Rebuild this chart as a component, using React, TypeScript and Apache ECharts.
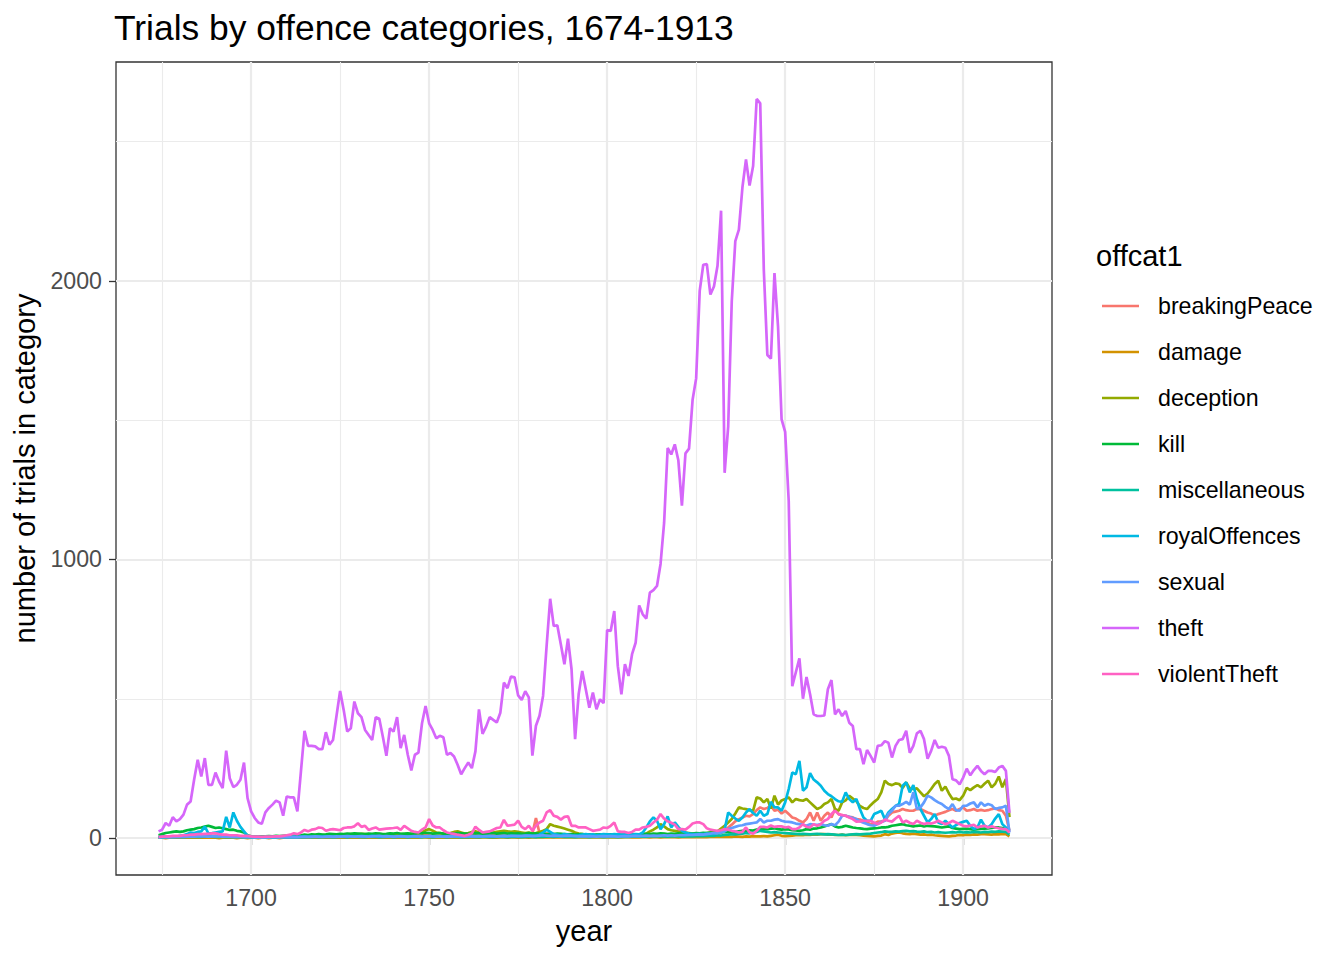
import React, { useEffect, useRef } from "react";
import * as echarts from "echarts";

const startYear = 1674;
const endYear = 1913;
const years: number[] = Array.from({ length: endYear - startYear + 1 }, (_, i) => startYear + i);

const categories = [
  "breakingPeace",
  "damage",
  "deception",
  "kill",
  "miscellaneous",
  "royalOffences",
  "sexual",
  "theft",
  "violentTheft",
];

const colors = ["#F8766D", "#D39200", "#93AA00", "#00BA38", "#00C19F", "#00B9E3", "#619CFF", "#D566FA", "#FF61C3"];

// one value per year, 1674..1913 (rows of ten years)
const breakingPeace = [
  2, 3, 3, 2, 4, 3, 3, 4, 5, 4,
  4, 5, 4, 3, 4, 5, 3, 4, 3, 4,
  3, 4, 3, 3, 2, 3, 2, 2, 3, 2,
  3, 2, 3, 3, 4, 3, 3, 4, 5, 4,
  6, 5, 6, 8, 6, 7, 8, 6, 7, 8,
  8, 7, 9, 8, 10, 8, 9, 10, 8, 9,
  8, 9, 7, 8, 10, 8, 9, 8, 7, 9,
  8, 7, 8, 9, 10, 12, 10, 9, 8, 9,
  8, 7, 6, 7, 8, 6, 7, 8, 9, 10,
  9, 8, 10, 11, 10, 12, 11, 14, 12, 13,
  12, 14, 15, 12, 14, 16, 72, 18, 14, 16,
  15, 14, 12, 14, 11, 12, 10, 9, 8, 9,
  8, 7, 8, 6, 7, 8, 6, 7, 8, 6,
  7, 6, 8, 7, 9, 8, 10, 9, 11, 12,
  11, 12, 14, 12, 13, 11, 12, 10, 11, 12,
  10, 11, 12, 10, 11, 12, 14, 16, 20, 28,
  38, 48, 60, 68, 74, 80, 78, 86, 100, 110,
  104, 108, 116, 98, 102, 88, 98, 86, 74, 70,
  62, 56, 68, 92, 62, 92, 62, 80, 92, 74,
  104, 86, 82, 80, 76, 74, 68, 66, 62, 56,
  50, 52, 59, 60, 62, 80, 92, 95, 98, 104,
  100, 98, 98, 104, 104, 98, 92, 88, 80, 86,
  90, 94, 100, 104, 98, 104, 110, 98, 100, 104,
  98, 101, 98, 100, 104, 107, 100, 98, 80, 26,
];

const damage = [
  1, 1, 0, 1, 1, 2, 1, 1, 2, 1,
  1, 2, 1, 1, 2, 1, 1, 0, 1, 1,
  1, 1, 0, 1, 1, 0, 1, 1, 0, 1,
  1, 0, 1, 1, 0, 1, 1, 2, 1, 1,
  2, 1, 1, 2, 1, 2, 1, 1, 2, 1,
  2, 1, 2, 1, 2, 1, 1, 2, 1, 2,
  1, 2, 1, 1, 2, 1, 2, 1, 1, 2,
  1, 1, 2, 1, 2, 2, 1, 2, 1, 1,
  2, 1, 1, 2, 1, 1, 2, 1, 2, 1,
  1, 2, 2, 1, 2, 1, 2, 2, 1, 2,
  2, 1, 2, 2, 1, 2, 3, 2, 2, 3,
  2, 3, 2, 2, 3, 2, 2, 3, 2, 2,
  2, 3, 2, 2, 3, 2, 3, 2, 2, 3,
  2, 3, 3, 2, 3, 2, 3, 3, 2, 3,
  3, 2, 3, 3, 4, 3, 2, 3, 4, 3,
  3, 4, 3, 4, 3, 4, 5, 4, 5, 4,
  5, 4, 6, 5, 4, 6, 5, 7, 6, 6,
  7, 6, 8, 10, 12, 8, 7, 8, 9, 10,
  11, 10, 12, 11, 13, 12, 14, 14, 12, 13,
  11, 11, 12, 10, 11, 12, 11, 10, 9, 8,
  7, 6, 8, 9, 14, 11, 16, 18, 20, 17,
  15, 14, 16, 14, 12, 13, 11, 12, 10, 9,
  8, 7, 6, 8, 9, 11, 10, 12, 11, 13,
  12, 14, 14, 13, 12, 14, 13, 15, 14, 6,
];

const deception = [
  3, 4, 4, 5, 5, 6, 5, 6, 7, 6,
  7, 8, 6, 8, 9, 7, 8, 6, 7, 6,
  6, 5, 6, 5, 4, 5, 3, 4, 3, 4,
  4, 3, 4, 5, 4, 5, 6, 5, 6, 5,
  7, 8, 9, 8, 10, 9, 11, 10, 12, 11,
  12, 11, 13, 12, 14, 12, 13, 15, 14, 12,
  13, 12, 14, 13, 12, 14, 13, 15, 14, 13,
  14, 15, 16, 18, 20, 28, 32, 26, 20, 18,
  16, 15, 18, 22, 24, 20, 16, 18, 22, 24,
  20, 18, 17, 18, 20, 22, 24, 26, 24, 22,
  24, 22, 20, 18, 20, 16, 18, 22, 26, 32,
  50, 44, 41, 38, 34, 30, 26, 20, 16, 14,
  12, 13, 11, 12, 10, 11, 12, 10, 11, 12,
  11, 10, 12, 11, 12, 13, 14, 16, 24, 30,
  38, 50, 42, 32, 28, 26, 24, 22, 20, 18,
  16, 14, 15, 16, 18, 20, 22, 24, 34, 44,
  56, 68, 88, 110, 106, 104, 100, 98, 146, 142,
  128, 140, 106, 152, 120, 135, 140, 146, 128, 140,
  136, 134, 140, 128, 116, 104, 110, 122, 128, 140,
  104, 98, 128, 135, 152, 142, 132, 115, 108, 104,
  118, 130, 140, 164, 206, 194, 190, 196, 194, 180,
  200, 178, 176, 178, 164, 150, 160, 176, 194, 206,
  170, 185, 160, 140, 142, 136, 152, 180, 172, 182,
  190, 182, 195, 206, 182, 195, 221, 182, 212, 75,
];

const kill = [
  10, 14, 18, 20, 22, 24, 22, 24, 28, 30,
  32, 36, 38, 41, 44, 40, 36, 38, 35, 32,
  29, 30, 26, 24, 20, 10, 6, 5, 6, 5,
  6, 7, 6, 8, 7, 8, 9, 10, 8, 9,
  10, 12, 11, 13, 12, 14, 12, 13, 15, 14,
  13, 15, 14, 16, 15, 17, 16, 15, 14, 16,
  15, 17, 16, 14, 15, 17, 16, 18, 15, 16,
  17, 15, 16, 18, 17, 19, 18, 16, 17, 18,
  16, 15, 17, 16, 18, 17, 16, 15, 17, 18,
  17, 16, 15, 17, 18, 16, 17, 18, 16, 17,
  16, 17, 15, 16, 18, 16, 17, 15, 16, 14,
  15, 14, 16, 15, 14, 13, 14, 12, 13, 14,
  12, 13, 11, 12, 13, 11, 12, 13, 12, 11,
  12, 13, 12, 14, 13, 12, 14, 15, 14, 16,
  15, 17, 16, 14, 16, 15, 17, 16, 15, 17,
  16, 18, 17, 19, 18, 20, 19, 21, 20, 22,
  21, 23, 22, 24, 26, 25, 28, 27, 30, 35,
  33, 32, 34, 35, 32, 30, 32, 31, 28, 27,
  26, 28, 32, 30, 34, 35, 38, 42, 46, 50,
  42, 38, 40, 44, 41, 38, 36, 35, 33, 32,
  34, 35, 36, 38, 38, 40, 44, 46, 48, 50,
  46, 44, 42, 44, 45, 42, 44, 43, 42, 40,
  38, 40, 42, 36, 34, 32, 33, 34, 32, 30,
  32, 33, 34, 35, 36, 38, 38, 36, 34, 26,
];

const miscellaneous = [
  2, 3, 2, 3, 4, 3, 4, 3, 4, 5,
  4, 5, 4, 5, 6, 5, 4, 5, 4, 3,
  4, 3, 4, 3, 2, 3, 2, 3, 2, 2,
  3, 2, 3, 2, 3, 3, 2, 3, 4, 3,
  4, 3, 4, 5, 4, 3, 4, 5, 4, 5,
  4, 5, 4, 3, 5, 4, 5, 4, 3, 4,
  5, 4, 3, 4, 5, 4, 3, 4, 5, 4,
  3, 4, 5, 4, 3, 5, 4, 3, 4, 5,
  4, 3, 4, 5, 4, 3, 4, 3, 5, 4,
  3, 4, 5, 4, 3, 4, 5, 4, 3, 4,
  5, 4, 3, 4, 5, 4, 3, 5, 4, 6,
  5, 4, 6, 5, 4, 5, 4, 3, 4, 5,
  4, 3, 4, 5, 4, 3, 4, 5, 4, 3,
  4, 5, 4, 5, 6, 5, 6, 5, 6, 7,
  6, 7, 6, 5, 6, 7, 6, 5, 6, 7,
  6, 7, 8, 7, 8, 9, 8, 10, 9, 11,
  12, 14, 13, 15, 16, 18, 17, 20, 22, 26,
  24, 22, 20, 21, 20, 19, 18, 17, 16, 15,
  14, 15, 14, 13, 14, 15, 14, 13, 14, 13,
  12, 11, 12, 11, 12, 13, 14, 13, 14, 15,
  16, 18, 20, 21, 24, 22, 22, 24, 23, 25,
  26, 24, 25, 23, 22, 24, 21, 22, 20, 21,
  20, 19, 20, 21, 20, 22, 20, 21, 20, 22,
  21, 20, 22, 21, 23, 22, 24, 23, 22, 12,
];

const royalOffences = [
  3, 4, 5, 4, 6, 5, 8, 10, 14, 20,
  18, 22, 24, 41, 17, 18, 20, 22, 24, 76,
  38, 92, 62, 40, 24, 8, 4, 3, 4, 3,
  3, 4, 3, 4, 3, 5, 4, 3, 4, 3,
  4, 5, 4, 3, 4, 5, 4, 5, 4, 3,
  4, 5, 6, 4, 5, 6, 5, 4, 5, 6,
  8, 6, 5, 4, 5, 6, 4, 5, 6, 5,
  4, 5, 6, 5, 4, 6, 5, 4, 5, 6,
  5, 4, 5, 6, 5, 4, 5, 6, 5, 4,
  5, 6, 5, 4, 6, 5, 6, 7, 6, 8,
  7, 8, 6, 8, 10, 9, 8, 12, 20, 30,
  22, 14, 12, 10, 14, 12, 10, 9, 10, 12,
  14, 12, 13, 11, 12, 14, 13, 12, 14, 13,
  12, 14, 13, 12, 14, 13, 20, 38, 60, 74,
  62, 32, 50, 78, 38, 56, 40, 26, 20, 16,
  14, 14, 15, 14, 16, 14, 15, 18, 20, 30,
  92, 80, 70, 62, 74, 92, 104, 90, 80, 98,
  80, 86, 130, 110, 110, 98, 128, 176, 235, 229,
  277, 170, 182, 233, 210, 200, 188, 170, 158, 150,
  140, 132, 130, 164, 140, 128, 140, 104, 74, 62,
  62, 86, 92, 98, 68, 92, 104, 115, 122, 188,
  200, 164, 190, 140, 104, 80, 56, 68, 86, 56,
  50, 62, 50, 38, 46, 54, 58, 62, 44, 32,
  38, 66, 44, 38, 50, 70, 86, 50, 38, 26,
];

const sexual = [
  2, 3, 3, 4, 3, 4, 5, 4, 5, 6,
  5, 6, 7, 6, 5, 6, 7, 6, 5, 6,
  5, 4, 5, 4, 3, 4, 3, 2, 3, 2,
  3, 2, 3, 3, 2, 3, 4, 3, 4, 3,
  4, 5, 4, 5, 6, 5, 4, 5, 6, 5,
  6, 5, 6, 7, 6, 5, 6, 7, 6, 5,
  6, 7, 8, 6, 7, 6, 5, 6, 7, 6,
  5, 6, 7, 6, 5, 6, 7, 6, 5, 6,
  5, 6, 5, 6, 7, 6, 5, 6, 7, 6,
  7, 6, 7, 8, 7, 6, 7, 8, 7, 8,
  8, 7, 8, 9, 8, 7, 8, 9, 10, 9,
  8, 9, 8, 7, 8, 9, 8, 7, 6, 7,
  6, 7, 6, 5, 6, 7, 6, 7, 6, 5,
  6, 7, 6, 7, 8, 7, 8, 9, 8, 9,
  8, 9, 10, 9, 10, 9, 10, 11, 10, 11,
  11, 12, 13, 12, 14, 16, 18, 17, 20, 24,
  32, 36, 40, 44, 46, 50, 52, 54, 56, 68,
  56, 62, 62, 66, 68, 62, 59, 58, 56, 52,
  50, 48, 44, 50, 48, 47, 50, 46, 44, 50,
  46, 59, 80, 80, 76, 72, 68, 60, 55, 50,
  46, 44, 50, 58, 62, 86, 98, 116, 116, 122,
  130, 120, 164, 104, 110, 128, 152, 146, 136, 128,
  122, 112, 104, 122, 100, 98, 116, 116, 124, 128,
  110, 128, 116, 122, 118, 104, 108, 110, 116, 20,
];

const theft = [
  24, 30, 54, 44, 75, 60, 68, 84, 120, 131,
  210, 281, 221, 287, 191, 191, 235, 203, 179, 314,
  215, 183, 191, 209, 271, 143, 96, 72, 56, 51,
  92, 108, 120, 134, 128, 80, 149, 146, 146, 96,
  240, 385, 331, 331, 329, 319, 319, 380, 335, 352,
  440, 528, 460, 382, 394, 490, 448, 434, 388, 370,
  352, 434, 428, 364, 295, 394, 382, 434, 323, 370,
  299, 243, 299, 307, 412, 474, 412, 388, 358, 367,
  362, 299, 305, 293, 263, 229, 251, 271, 251, 311,
  462, 374, 400, 434, 424, 415, 450, 558, 538, 580,
  577, 512, 496, 527, 505, 296, 403, 439, 510, 690,
  859, 761, 764, 695, 624, 716, 606, 355, 516, 600,
  534, 468, 522, 462, 498, 484, 747, 743, 815, 617,
  516, 624, 582, 660, 701, 835, 803, 788, 881, 890,
  905, 984, 1131, 1400, 1377, 1413, 1356, 1193, 1381, 1398,
  1573, 1650, 1964, 2058, 2060, 1951, 1980, 2054, 2252, 1311,
  1477, 1926, 2143, 2184, 2336, 2436, 2342, 2412, 2653, 2637,
  2041, 1734, 1721, 2028, 1836, 1503, 1458, 1210, 545, 595,
  645, 500, 578, 516, 444, 438, 438, 440, 534, 567,
  444, 462, 438, 456, 414, 402, 319, 319, 265, 316,
  295, 271, 331, 333, 348, 342, 289, 331, 352, 355,
  385, 306, 331, 376, 385, 355, 285, 313, 352, 324,
  328, 324, 295, 211, 207, 193, 217, 249, 225, 244,
  259, 241, 229, 241, 241, 237, 253, 259, 241, 90,
];

const violentTheft = [
  4, 5, 6, 6, 8, 8, 8, 10, 10, 12,
  12, 14, 14, 15, 15, 17, 17, 14, 12, 12,
  10, 10, 10, 8, 8, 8, 6, 5, 5, 4,
  5, 5, 5, 6, 6, 8, 10, 12, 17, 14,
  20, 29, 24, 30, 32, 38, 36, 26, 30, 32,
  30, 28, 36, 38, 38, 42, 53, 40, 44, 29,
  34, 38, 30, 32, 34, 35, 36, 38, 29, 44,
  35, 26, 22, 20, 30, 38, 68, 45, 38, 38,
  28, 20, 17, 15, 12, 10, 8, 12, 17, 41,
  29, 20, 22, 24, 30, 36, 38, 65, 44, 46,
  48, 62, 40, 32, 44, 26, 44, 56, 62, 92,
  100, 80, 76, 66, 76, 78, 44, 44, 38, 38,
  38, 32, 26, 28, 30, 38, 36, 44, 56, 24,
  22, 22, 18, 22, 30, 30, 38, 40, 44, 56,
  66, 86, 70, 60, 55, 48, 32, 32, 30, 40,
  52, 56, 56, 50, 35, 30, 28, 26, 28, 32,
  30, 26, 24, 20, 22, 38, 20, 16, 26, 40,
  40, 38, 45, 40, 42, 42, 38, 40, 32, 32,
  38, 50, 40, 38, 50, 44, 50, 62, 68, 86,
  98, 86, 82, 80, 74, 68, 59, 60, 62, 62,
  62, 55, 50, 56, 66, 62, 59, 70, 80, 56,
  62, 55, 50, 62, 55, 50, 54, 52, 56, 62,
  56, 50, 54, 62, 56, 50, 44, 42, 45, 47,
  38, 42, 44, 38, 42, 38, 35, 33, 32, 20,
];

const seriesValues = [breakingPeace, damage, deception, kill, miscellaneous, royalOffences, sexual, theft, violentTheft];

const xTicks = [1700, 1750, 1800, 1850, 1900];
const xMinorTicks = [1675, 1725, 1775, 1825, 1875];
const yTicks = [0, 1000, 2000];
const yMinorTicks = [500, 1500, 2500];

const titleText = "Trials by offence categories, 1674-1913";
const legendTitle = "offcat1";
const xTitle = "year";
const yTitle = "number of trials in category";

const FONT = "'Liberation Sans', Arial, Helvetica, sans-serif";

export default function App() {
  const ref = useRef<HTMLDivElement>(null);

  useEffect(() => {
    document.body.style.margin = "0";
    if (!ref.current) return;
    const chart = echarts.init(ref.current, null, { renderer: "svg" });

    let vMin = Infinity;
    let vMax = -Infinity;
    seriesValues.forEach((arr) =>
      arr.forEach((v) => {
        if (v < vMin) vMin = v;
        if (v > vMax) vMax = v;
      })
    );
    const yPad = (vMax - vMin) * 0.05;
    const xPad = (endYear - startYear) * 0.05;

    const gridLine = (v: number, axis: "xAxis" | "yAxis", width: number) => ({
      [axis]: v,
      lineStyle: { color: "#EBEBEB", width, type: "solid" },
    });

    const series: any[] = [
      {
        name: "__grid",
        type: "line",
        data: [],
        z: 1,
        silent: true,
        markLine: {
          silent: true,
          symbol: ["none", "none"],
          label: { show: false },
          emphasis: { disabled: true },
          animation: false,
          z: 1,
          data: [
            ...xMinorTicks.map((v) => gridLine(v, "xAxis", 1.1)),
            ...yMinorTicks.map((v) => gridLine(v, "yAxis", 1.1)),
            ...xTicks.map((v) => gridLine(v, "xAxis", 2.2)),
            ...yTicks.map((v) => gridLine(v, "yAxis", 2.2)),
          ],
        },
      },
      ...categories.map((name, i) => ({
        name,
        type: "line",
        z: 3,
        symbol: "none",
        showSymbol: false,
        color: colors[i],
        lineStyle: { width: 2.7, color: colors[i] },
        emphasis: { disabled: true },
        data: years.map((y, k) => [y, seriesValues[i][k]]),
      })),
    ];

    chart.setOption({
      animation: false,
      textStyle: { fontFamily: FONT },
      title: [
        {
          text: titleText,
          left: 114,
          top: 10,
          padding: 0,
          textStyle: { fontSize: 35.4, fontWeight: "normal", color: "#000000", fontFamily: FONT },
        },
        {
          text: legendTitle,
          left: 1096,
          top: 241,
          padding: 0,
          textStyle: { fontSize: 29, fontWeight: "normal", color: "#000000", fontFamily: FONT },
        },
      ],
      legend: {
        data: categories,
        orient: "vertical",
        left: 1102,
        top: 283,
        padding: 0,
        itemGap: 0,
        itemWidth: 37,
        itemHeight: 2.6,
        icon: "rect",
        selectedMode: false,
        textStyle: {
          fontSize: 23.2,
          color: "#000000",
          fontFamily: FONT,
          lineHeight: 46,
          padding: [0, 0, 0, 14],
        },
      },
      grid: {
        left: 116,
        top: 62,
        width: 936,
        height: 813,
        show: true,
        borderColor: "#333333",
        borderWidth: 1.3,
        backgroundColor: "#FFFFFF",
        containLabel: false,
        outerBoundsMode: "none",
      },
      xAxis: {
        type: "value",
        min: startYear - xPad,
        max: endYear + xPad,
        name: xTitle,
        nameLocation: "middle",
        nameGap: 41,
        nameTextStyle: { fontSize: 29, color: "#000000", fontFamily: FONT },
        axisLine: { show: false },
        splitLine: { show: false },
        axisTick: {
          show: true,
          length: 7,
          customValues: xTicks,
          lineStyle: { color: "#333333", width: 1.3 },
        },
        axisLabel: {
          show: true,
          customValues: xTicks,
          formatter: (v: number) => String(v),
          margin: 11,
          fontSize: 23.2,
          color: "#4D4D4D",
          fontFamily: FONT,
        },
      },
      yAxis: {
        type: "value",
        min: vMin - yPad,
        max: vMax + yPad,
        name: yTitle,
        nameLocation: "middle",
        nameRotate: 90,
        nameGap: 62,
        nameTextStyle: { fontSize: 29, color: "#000000", fontFamily: FONT },
        axisLine: { show: false },
        splitLine: { show: false },
        axisTick: {
          show: true,
          length: 7,
          customValues: yTicks,
          lineStyle: { color: "#333333", width: 1.3 },
        },
        axisLabel: {
          show: true,
          customValues: yTicks,
          formatter: (v: number) => String(v),
          margin: 14,
          fontSize: 23.2,
          color: "#4D4D4D",
          fontFamily: FONT,
        },
      },
      series,
    });

    return () => {
      chart.dispose();
    };
  }, []);

  return <div ref={ref} style={{ width: 1344, height: 960 }} />;
}
